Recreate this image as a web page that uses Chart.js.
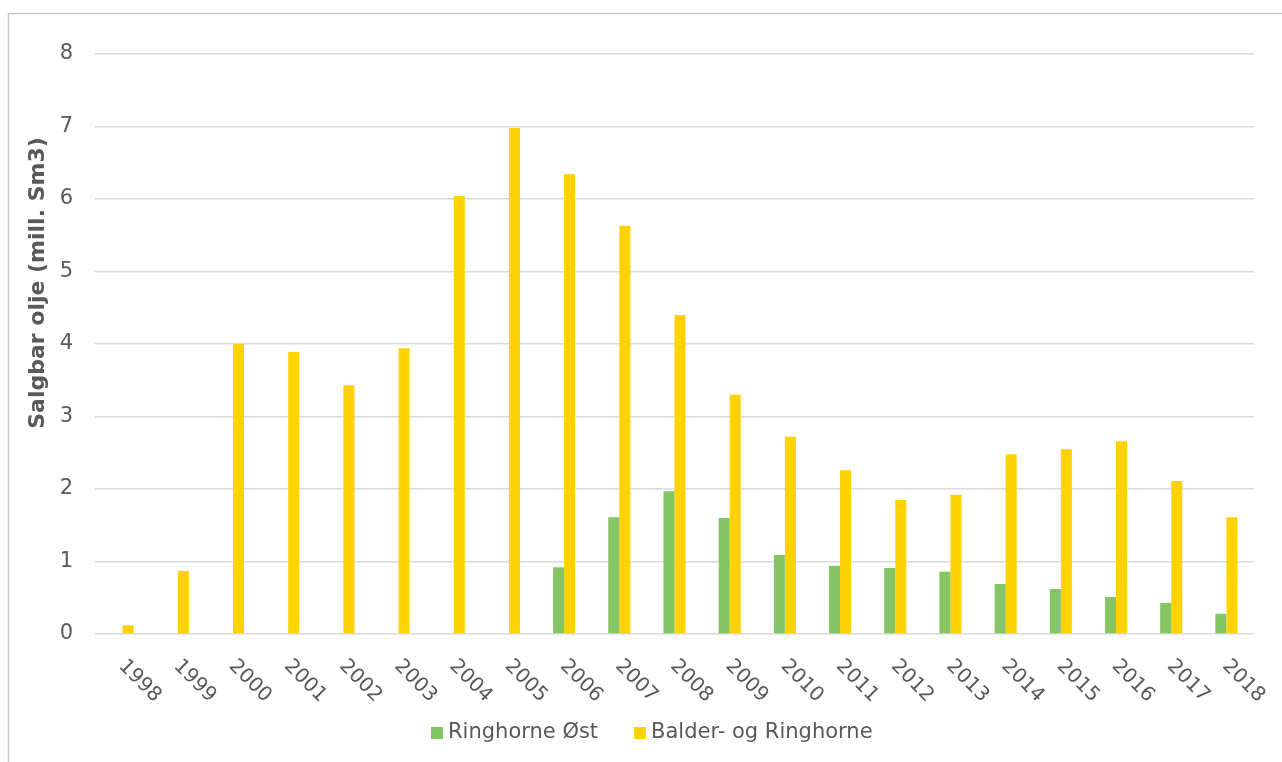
<!DOCTYPE html>
<html>
<head>
<meta charset="utf-8">
<script src="https://cdn.jsdelivr.net/npm/chart.js@4/dist/chart.umd.min.js"></script>
<style>
  html, body { margin: 0; padding: 0; background: #ffffff; }
  #wrap { position: relative; width: 1282px; height: 762px; }
  canvas { display: block; }
</style>
</head>
<body>
<div id="wrap"><canvas id="c" width="1282" height="762"></canvas></div>
<script>
// Salgbar olje per år (mill. Sm3)
const years = ['1998','1999','2000','2001','2002','2003','2004','2005','2006','2007','2008',
               '2009','2010','2011','2012','2013','2014','2015','2016','2017','2018'];
const ringhorneOst = [null, null, null, null, null, null, null, null, 0.92, 1.61, 1.97,
                      1.60, 1.09, 0.94, 0.91, 0.86, 0.69, 0.62, 0.51, 0.43, 0.28];
const balderRinghorne = [0.12, 0.87, 4.00, 3.89, 3.43, 3.94, 6.04, 6.98, 6.34, 5.63, 4.40,
                         3.30, 2.72, 2.26, 1.85, 1.92, 2.48, 2.55, 2.66, 2.11, 1.61];
const yTicks = [0, 1, 2, 3, 4, 5, 6, 7, 8];
const yTitle = 'Salgbar olje (mill. Sm3)';

const FONT = "'DejaVu Sans', Verdana, sans-serif";
const TEXT = '#595959';

// Frame around the chart object
const framePlugin = {
  id: 'frame',
  beforeDraw(chart) {
    const ctx = chart.ctx;
    ctx.save();
    ctx.strokeStyle = '#c8c8c8';
    ctx.lineWidth = 1.5;
    ctx.beginPath();
    ctx.moveTo(8.5, chart.height);
    ctx.lineTo(8.5, 13.5);
    ctx.lineTo(chart.width, 13.5);
    ctx.stroke();
    ctx.restore();
  }
};

// Year labels slanted downward to the right, the vertical axis title,
// and the legend row under the axis
const annotations = {
  id: 'annotations',
  afterDraw(chart) {
    const xs = chart.scales.x;
    const ctx = chart.ctx;
    ctx.save();
    ctx.fillStyle = TEXT;

    ctx.font = '20px ' + FONT;
    ctx.textAlign = 'left';
    ctx.textBaseline = 'middle';
    years.forEach((lab, i) => {
      const x = xs.getPixelForTick(i);
      ctx.save();
      ctx.translate(x - 1, xs.top + 29);
      ctx.rotate(Math.PI / 4);
      ctx.fillText(lab, 0, 0);
      ctx.restore();
    });

    ctx.save();
    ctx.font = 'bold 22px ' + FONT;
    ctx.textAlign = 'center';
    ctx.textBaseline = 'middle';
    ctx.translate(38, 283);
    ctx.rotate(-Math.PI / 2);
    ctx.fillText(yTitle, 0, 0);
    ctx.restore();

    ctx.font = '21px ' + FONT;
    ctx.textAlign = 'left';
    ctx.textBaseline = 'middle';
    const legendY = 733;
    let lx = 431;
    chart.data.datasets.forEach(ds => {
      ctx.fillStyle = ds.backgroundColor;
      ctx.fillRect(lx, legendY - 6, 12, 12);
      ctx.fillStyle = TEXT;
      ctx.fillText(ds.label, lx + 17, legendY);
      lx += 17 + ctx.measureText(ds.label).width + 36;
    });
    ctx.restore();
  }
};

new Chart(document.getElementById('c'), {
  type: 'bar',
  data: {
    labels: years,
    datasets: [
      { label: 'Ringhorne Øst', data: ringhorneOst, backgroundColor: '#86c564' },
      { label: 'Balder- og Ringhorne', data: balderRinghorne, backgroundColor: '#ffd200' }
    ]
  },
  options: {
    responsive: false,
    animation: false,
    devicePixelRatio: 1,
    layout: { padding: { left: 9, right: 28, top: 54, bottom: 48 } },
    datasets: { bar: { categoryPercentage: 0.4, barPercentage: 1.0 } },
    plugins: {
      tooltip: { enabled: false },
      legend: { display: false }
    },
    scales: {
      x: {
        grid: { display: false },
        border: { display: false },
        ticks: { display: false },
        afterFit(s) { s.height = 80; }
      },
      y: {
        min: 0,
        max: 8,
        afterBuildTicks(s) { s.ticks = yTicks.map(v => ({ value: v })); },
        grid: { color: '#d9d9d9', lineWidth: 1.5, drawTicks: false },
        border: { display: false },
        ticks: { color: TEXT, font: { family: FONT, size: 21 }, padding: 22 },
        afterFit(s) { s.width = 86; }
      }
    }
  },
  plugins: [framePlugin, annotations]
});
</script>
</body>
</html>
